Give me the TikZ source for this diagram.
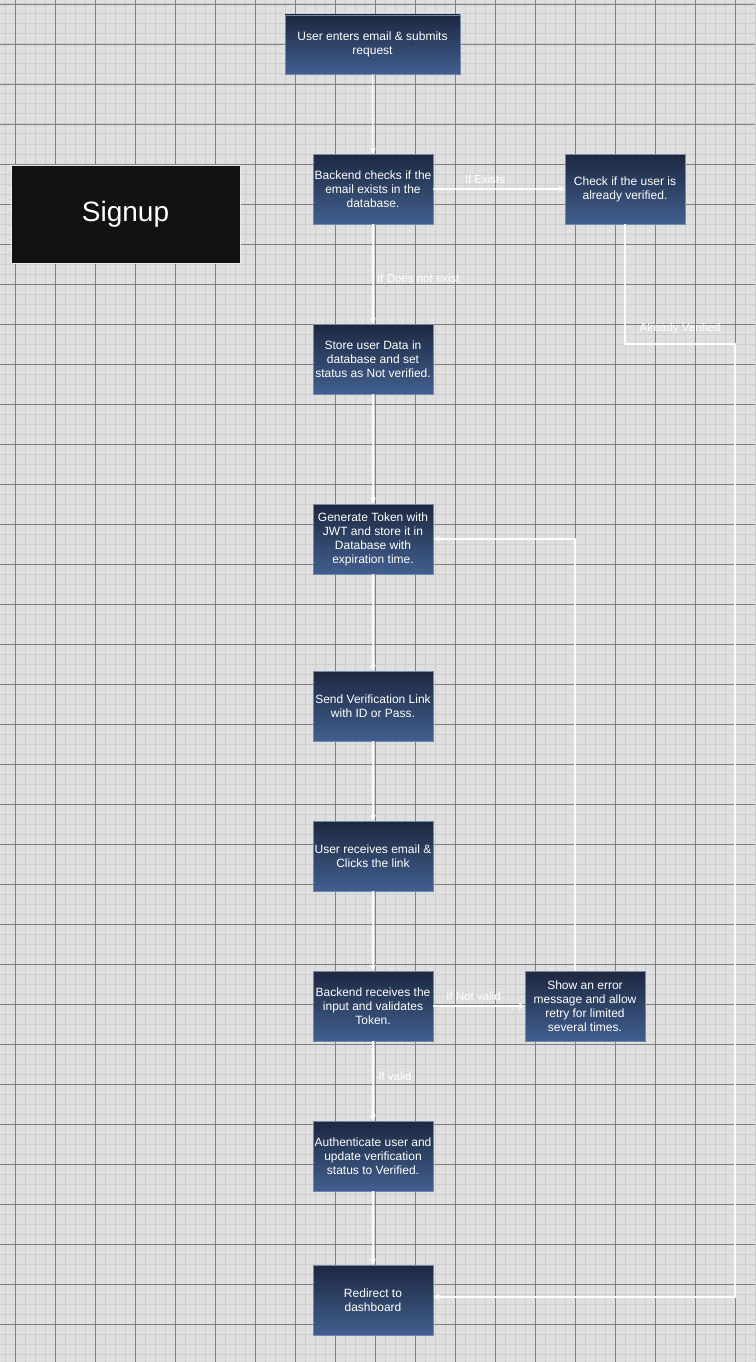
\documentclass[tikz,border=0pt]{standalone}
\usepackage{fontspec}
\setmainfont{Liberation Sans}
\usetikzlibrary{arrows.meta}
\definecolor{canvas}{HTML}{DFDFDF}
\definecolor{minorline}{HTML}{CECECE}
\definecolor{majorline}{HTML}{808080}
\definecolor{boxtop}{HTML}{1D2840}
\definecolor{boxbot}{HTML}{415F8F}
\definecolor{boxedge}{HTML}{7288AC}
\tikzset{
  stepbox/.style={rectangle, top color=boxtop, bottom color=boxbot, draw=boxedge, line width=0.8pt,
    minimum width=120pt, minimum height=70pt, inner sep=1pt, align=center, text=white,
    font=\fontsize{12}{14}\selectfont},
  flow/.style={draw=white, line width=1.2pt, -{Stealth[length=6pt,width=6pt]}},
  lbl/.style={text=white, font=\fontsize{11.5}{13}\selectfont, inner sep=0pt}
}
\begin{document}
\begin{tikzpicture}[x=1pt,y=-1pt]
\useasboundingbox (0,0) rectangle (755,1362);
\fill[canvas] (0,0) rectangle (755,1362);
% minor grid
\foreach \gx in {5,15,...,755} \draw[minorline, line width=1pt] (\gx,0) -- (\gx,1362);
\foreach \gy in {4,14,...,1362} \draw[minorline, line width=1pt] (0,\gy) -- (755,\gy);
% major grid
\foreach \gx in {15,55,...,755} \draw[majorline, line width=0.8pt] (\gx,0) -- (\gx,1362);
\foreach \gy in {4,44,...,1362} \draw[majorline, line width=0.8pt] (0,\gy) -- (755,\gy);

% title block
\node[rectangle, fill=black!93, draw=white!92!black, line width=0.8pt, minimum width=229pt, minimum height=98pt,
  text=white, font=\fontsize{28}{32}\selectfont] (title) at (125.5,214) {Signup};

% process steps
\node[stepbox, minimum width=175pt, minimum height=59pt] (enter) at (372.5,44.5) {User enters email \& submits\\request};
\node[stepbox] (check) at (373,189) {Backend checks if the\\email exists in the\\database.};
\node[stepbox] (verified) at (625,189) {Check if the user is\\already verified.};
\node[stepbox] (store) at (373,359) {Store user Data in\\database and set\\status as Not verified.};
\node[stepbox] (token) at (373,539) {Generate Token with\\JWT and store it in\\Database with\\expiration time.};
\node[stepbox] (send) at (373,706) {Send Verification Link\\with ID or Pass.};
\node[stepbox] (receive) at (373,856) {User receives email \&\\Clicks the link};
\node[stepbox] (validate) at (373,1006) {Backend receives the\\input and validates\\Token.};
\node[stepbox] (error) at (585,1006) {Show an error\\message and allow\\retry for limited\\several times.};
\node[stepbox] (auth) at (373,1156) {Authenticate user and\\update verification\\status to Verified.};
\node[stepbox] (redirect) at (373,1300) {Redirect to\\dashboard};

% connectors
\draw[flow] (enter) -- (check);
\draw[flow] (check) -- (verified);
\draw[flow] (check) -- (store);
\draw[flow] (store) -- (token);
\draw[flow] (token) -- (send);
\draw[flow] (send) -- (receive);
\draw[flow] (receive) -- (validate);
\draw[flow] (validate) -- (error);
\draw[flow] (validate) -- (auth);
\draw[flow] (auth) -- (redirect);
\coordinate (retrytop) at (575,539);
\draw[flow] (error.north -| retrytop) -- (retrytop) -- (token.east);
\coordinate (bendA) at (625,344);
\coordinate (bendB) at (735,344);
\coordinate (bendC) at (735,1297);
\draw[flow] (verified.south) -- (bendA) -- (bendB) -- (bendC) -- (redirect.east |- bendC);

% connector labels
\node[lbl] (lexists) at (485,179) {If Exists};
\node[lbl, anchor=west] (lnotexist) at (377,278) {If Does not exist};
\node[lbl] (lalready) at (680,328.5) {Already Verified};
\node[lbl] (lnotvalid) at (473.5,996) {If Not valid};
\node[lbl] (lvalid) at (395,1076) {If valid};
\end{tikzpicture}
\end{document}
